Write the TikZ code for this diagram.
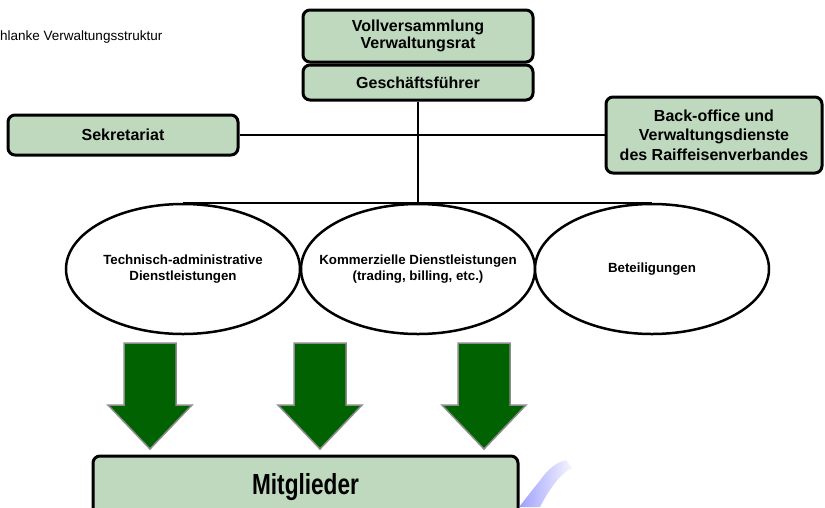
\documentclass[tikz,border=0pt]{standalone}
\usepackage{fontspec}
\setmainfont{Liberation Sans}
\usetikzlibrary{positioning,shapes.geometric}
\definecolor{boxgreen}{RGB}{190,217,190}
\definecolor{arrowgreen}{RGB}{0,98,0}
\newcommand{\unittext}[1]{\makebox[0pt]{\begin{tabular}{@{}c@{}}#1\end{tabular}}}

\begin{document}
\begin{tikzpicture}[x=1pt, y=-1pt,
  orgbox/.style={rectangle, rounded corners=7pt, draw=black, fill=boxgreen,
    line width=3pt, align=center, inner sep=0pt,
    font=\fontsize{16}{19.5}\selectfont\bfseries},
  unit/.style={ellipse, draw=black, fill=white, line width=2.5pt,
    minimum width=234pt, minimum height=130pt, inner sep=0pt,
    font=\fontsize{13.3}{16.5}\selectfont\bfseries},
  link/.style={draw=black, line width=2.5pt},
  flow/.style={fill=arrowgreen, draw=black!45, line width=1.5pt},
]
\clip (0,0) rectangle (825,507);

% TITLE
\node[anchor=west, inner sep=0pt, font=\fontsize{13.5}{16}\selectfont] (title) at (0,37)
  {hlanke Verwaltungsstruktur};

% TOP: governing bodies
\node[orgbox, minimum width=230pt, minimum height=52pt,
  font=\fontsize{16}{17.5}\selectfont\bfseries] (VV) at (418,36)
  {Vollversammlung\\Verwaltungsrat};
\node[orgbox, minimum width=230pt, minimum height=35pt] (GF) at (418,82.5)
  {Geschäftsführer};

% STAFF: left and right
\node[orgbox, minimum width=230pt, minimum height=40pt] (sek) at (123,135)
  {Sekretariat};
\node[orgbox, minimum width=216pt, minimum height=76pt] (bo) at (714,135)
  {Back-office und\\Verwaltungsdienste\\des Raiffeisenverbandes};

% LINES
\draw[link] (sek.east) -- (bo.west);
\draw[link] (GF.south) -- (GF.south |- 0,203);

% SERVICES
\node[unit] (tech) at (183,269)
  {\unittext{Technisch-administrative\\Dienstleistungen}};
\node[unit] (komm) at (418,269)
  {\unittext{Kommerzielle Dienstleistungen\\(trading, billing, etc.)}};
\node[unit] (beteil) at (652,269) {\unittext{Beteiligungen}};
\draw[link] (tech.north) -- (beteil.north);

% BLOCK ARROWS
\foreach \x in {150,320,484}
  \draw[flow] (\x-26,343) -- (\x+26,343) -- (\x+26,405) -- (\x+42,405)
    -- (\x,449) -- (\x-42,405) -- (\x-26,405) -- cycle;

% MEMBERS (bottom)
\node[orgbox, minimum width=425pt, minimum height=62pt,
  font=\fontsize{29}{32}\selectfont\bfseries] (mit) at (305.5,487)
  {\scalebox{0.78}[1]{Mitglieder}};

% logo remnant
\shade[left color=blue!50, right color=blue!5, opacity=0.75]
  (519,507) -- (545,474) .. controls (552,466) and (558,462) .. (566,460)
  -- (572,468) .. controls (560,474) and (550,488) .. (540,507) -- cycle;
\end{tikzpicture}
\end{document}
